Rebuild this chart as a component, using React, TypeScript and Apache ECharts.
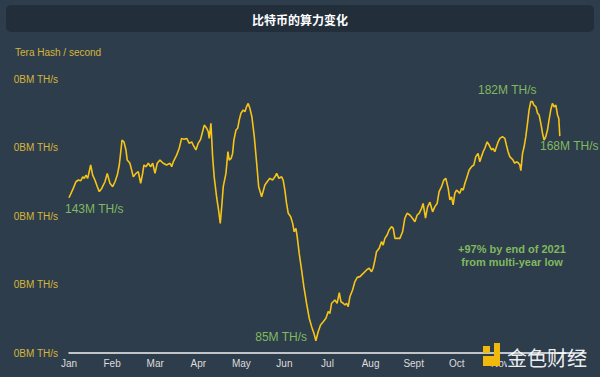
import React, { useEffect, useRef } from "react";
import * as echarts from "echarts";

const months = ["Jan", "Feb", "Mar", "Apr", "May", "Jun", "Jul", "Aug", "Sept", "Oct", "Nov", "Dec"];
const yTickLabel = "0BM TH/s";

// day of year 2021
const days = [
  0, 3.0, 4.9, 6.6, 8.3, 9.7, 10.8, 12.0, 13.2, 15.3, 16.7, 18.3, 20.0, 21.4, 23.1, 25.4, 27.0, 28.9, 30.8, 32.5,
  34.1, 35.5, 36.7, 37.4, 38.8, 40.2, 41.1, 43.0, 44.2, 45.4, 47.3, 48.9, 50.6, 52.0, 52.9, 54.3, 56.0, 57.7, 59.1, 60.7,
  62.3, 64.2,
  66.5, 68.9, 71.3, 72.5, 73.6, 76.0, 77.8, 79.5, 81.2, 83.1, 84.9, 86.6, 87.7, 89.6, 91.2, 92.9, 94.3, 95.5, 97.2, 98.3,
  99.0, 100.2, 101.4, 102.5, 104.2, 105.6, 106.8, 108.0, 108.9, 110.8, 112.2, 113.1, 114.5, 115.5, 116.4, 117.9, 119.1, 120.2, 121.4, 123.0,
  124.2, 125.4, 126.5, 127.7, 129.1, 130.8, 132.5, 133.9, 136.0, 138.3, 139.9, 141.8, 143.7, 145.4, 146.6, 148.2, 150.1, 151.2, 152.4, 153.6,
  154.8, 156.5, 157.9, 159.0, 160.2, 161.1, 162.5, 164.2, 165.8, 167.7, 169.6, 171.3, 172.9, 174.3, 175.9, 177.6, 179.5, 181.4, 183.0, 184.2,
  185.4, 186.5, 187.7, 189.3, 190.8, 192.0, 193.6, 194.8, 196.0, 197.1, 198.3, 200.2, 201.8, 203.5, 205.4,
  207.7, 210.1, 211.9, 213.6, 214.7, 216.0, 217.1, 219.0, 220.7, 221.8, 223.0, 224.6, 226.0, 227.7, 228.9, 230.1, 231.7, 233.6, 235.5, 237.1,
  238.7, 240.6, 242.5, 244.2, 245.8, 247.2, 248.9, 250.0, 251.7, 253.1, 254.8, 256.7, 258.3, 259.9, 261.3, 263.0, 264.6, 266.0, 267.7, 268.9,
  270.1, 271.2, 272.4, 273.6, 274.7,
  275.9, 277.1, 278.3, 279.5, 280.7, 282.5, 284.2, 285.8, 287.2, 288.8, 290.0, 291.2, 292.4, 293.6, 295.2, 296.6, 298.3, 299.4, 300.6, 301.8,
  303.0, 304.2, 306.0, 307.7, 308.8, 310.0, 311.2, 312.4, 313.5, 314.7, 315.9, 317.1, 318.3, 319.0, 320.2, 321.3, 322.5, 323.7, 324.8, 326.0,
  327.2, 328.2, 329.6, 330.8, 331.9, 333.1, 334.3, 335.4, 336.6, 337.8, 338.9, 340.1, 341.3, 342.5, 343.7, 344.9, 345.8, 346.5,
];

// hash rate, million TH/s
const hashrate = [
  143, 146.8, 149.5, 150.2, 149.9, 151.5, 150.9, 152.2, 150.9, 156.3, 152.2, 150.2, 147.5, 145.5, 146.8, 149.5, 152.9, 148.9, 147.5, 149.5,
  152.2, 156.3, 162.4, 166.4, 165.7, 162.4, 158.3, 157.0, 154.3, 151.5, 152.9, 153.6, 148.9, 152.9, 156.3, 155.6, 157.0, 155.6, 157.0, 152.9,
  157.0, 158.3,
  157.0, 156.3, 157.0, 155.6, 157.6, 160.3, 163.1, 167.1, 166.7, 167.1, 165.1, 165.7, 164.4, 162.4, 165.1, 166.7, 169.8, 172.5, 171.2, 169.8,
  167.1, 173.2, 159.7, 151.5, 143.4, 138.0, 132.6, 140.7, 147.5, 152.9, 161.7, 158.3, 159.0, 161.0, 166.4, 170.5, 171.2, 174.6, 177.3, 178.6,
  177.9, 180.0, 181.3, 179.3, 175.9, 167.8, 157.0, 147.5, 143.4, 148.2, 149.5, 150.9, 150.2, 151.5, 152.9, 150.9, 151.5, 150.2, 146.1, 140.7,
  136.7, 135.3, 132.6, 129.2, 130.6, 127.2, 120.5, 113.7, 106.9, 100.2, 94.1, 90.7, 88.0, 85.0, 88.6, 91.4, 92.7, 94.1, 96.8, 96.1,
  100.2, 100.8, 101.5, 100.2, 104.5, 100.8, 100.2, 99.5, 100.2, 98.8, 102.8, 105.6, 108.9, 110.7, 111.0,
  112.3, 113.7, 114.4, 113.0, 114.4, 117.7, 121.1, 122.5, 125.2, 123.8, 126.5, 127.9, 129.9, 131.3, 130.6, 126.5, 126.5, 126.5, 129.2, 134.7,
  136.7, 136.0, 134.7, 133.3, 136.0, 136.7, 138.7, 140.7, 134.7, 139.2, 141.2, 137.3, 139.4, 140.7, 145.5, 147.5, 150.2, 150.9, 146.8, 142.1,
  143.4, 140.1, 144.8, 146.1, 145.5,
  144.8, 146.8, 146.1, 148.9, 150.9, 154.3, 155.6, 156.3, 159.7, 161.0, 157.6, 159.7, 161.7, 163.1, 165.7, 164.4, 162.4, 163.1, 161.7, 163.7,
  165.7, 167.1, 167.8, 167.1, 164.4, 161.7, 159.7, 159.0, 158.3, 157.0, 157.6, 157.2, 156.3, 154.0, 161.0, 163.7, 167.8, 173.2, 178.6, 182.0,
  182.0, 180.6, 180.0, 177.3, 176.6, 173.2, 169.2, 166.4, 167.8, 170.5, 174.6, 178.6, 181.3, 179.9, 180.6, 176.6, 175.2, 168.0,
];

const title = "比特币的算力变化";
const unitLabel = "Tera Hash / second";
const annotations = ["143M TH/s", "85M TH/s", "182M TH/s", "168M TH/s"];
const noteLines = ["+97% by end of 2021", "from multi-year low"];

const FONT = "'Liberation Sans', Arial, Helvetica, sans-serif";
const GREEN = "#80b95f";
const YELLOW = "#d6b53a";
const BG = "#2e3d4c";

export default function App() {
  const ref = useRef<HTMLDivElement>(null);
  useEffect(() => {
    document.body.style.margin = "0";
    const chart = echarts.init(ref.current!, null, { renderer: "svg" });
    const data = days.map((d, i) => [d, hashrate[i]]);
    const step = 365 / 12;
    chart.setOption({
      animation: false,
      backgroundColor: BG,
      grid: { left: 69, right: 14, top: 79, bottom: 24, containLabel: false },
      xAxis: {
        type: "value",
        min: 0,
        max: 365,
        interval: step,
        axisLine: { show: true, lineStyle: { color: "#f2f2f2", width: 1.5 } },
        axisTick: { show: false },
        splitLine: { show: false },
        axisLabel: {
          color: "#dcdcdc",
          fontSize: 10,
          fontFamily: FONT,
          margin: 5,
          showMaxLabel: false,
          formatter: (v: number) => months[Math.round(v / step)] ?? "",
        },
      },
      yAxis: {
        type: "value",
        min: 80,
        max: 191.2,
        interval: 27.8,
        axisLine: { show: false },
        axisTick: { show: false },
        splitLine: { show: false },
        axisLabel: {
          color: YELLOW,
          fontSize: 10,
          fontFamily: FONT,
          margin: 11,
          formatter: () => yTickLabel,
        },
      },
      series: [
        {
          type: "line",
          data,
          symbol: "none",
          lineStyle: { color: "#f5c417", width: 1.6 },
          z: 3,
        },
      ],
      graphic: [
        {
          type: "rect",
          shape: { x: 6, y: 5, width: 588, height: 27, r: 5 },
          style: { fill: "#222f3b" },
          z: 1,
        },
        {
          type: "text",
          x: 300,
          y: 19,
          style: {
            text: title,
            fill: "#ffffff",
            font: "bold 12px 'Noto Sans CJK SC', sans-serif",
            textAlign: "center",
            textVerticalAlign: "middle",
          },
          z: 2,
        },
        {
          type: "text",
          x: 15,
          y: 52,
          style: { text: unitLabel, fill: YELLOW, font: `10px ${FONT}`, textVerticalAlign: "middle" },
        },
        {
          type: "text",
          x: 65,
          y: 209,
          style: { text: annotations[0], fill: GREEN, font: `12px ${FONT}`, textVerticalAlign: "middle" },
        },
        {
          type: "text",
          x: 307,
          y: 337,
          style: { text: annotations[1], fill: GREEN, font: `12px ${FONT}`, textAlign: "right", textVerticalAlign: "middle" },
        },
        {
          type: "text",
          x: 478,
          y: 90,
          style: { text: annotations[2], fill: GREEN, font: `12px ${FONT}`, textVerticalAlign: "middle" },
        },
        {
          type: "text",
          x: 540,
          y: 146,
          style: { text: annotations[3], fill: GREEN, font: `12px ${FONT}`, textVerticalAlign: "middle" },
        },
        {
          type: "text",
          x: 512,
          y: 249,
          style: { text: noteLines[0], fill: GREEN, font: `bold 11px ${FONT}`, textAlign: "center", textVerticalAlign: "middle" },
        },
        {
          type: "text",
          x: 512,
          y: 262,
          style: { text: noteLines[1], fill: GREEN, font: `bold 11px ${FONT}`, textAlign: "center", textVerticalAlign: "middle" },
        },
        // watermark logo (drawn over the axis labels, as in the source image)
        { type: "rect", shape: { x: 507, y: 354, width: 82, height: 14 }, style: { fill: BG }, z: 9 },
        { type: "rect", shape: { x: 483, y: 346, width: 7, height: 7 }, style: { fill: "#f0b90b" }, z: 10 },
        { type: "rect", shape: { x: 483, y: 356, width: 17, height: 10 }, style: { fill: "#f0b90b" }, z: 10 },
        { type: "rect", shape: { x: 494, y: 343, width: 6, height: 23 }, style: { fill: "#f0b90b" }, z: 10 },
        {
          type: "text",
          x: 507,
          y: 357,
          style: {
            text: "金色财经",
            fill: "rgba(255,255,255,0.92)",
            font: "20px 'Noto Sans CJK SC', sans-serif",
            textVerticalAlign: "middle",
          },
          z: 10,
        },
      ],
    });
    return () => chart.dispose();
  }, []);
  return <div ref={ref} style={{ position: "fixed", left: 0, top: 0, width: 600, height: 377 }} />;
}
